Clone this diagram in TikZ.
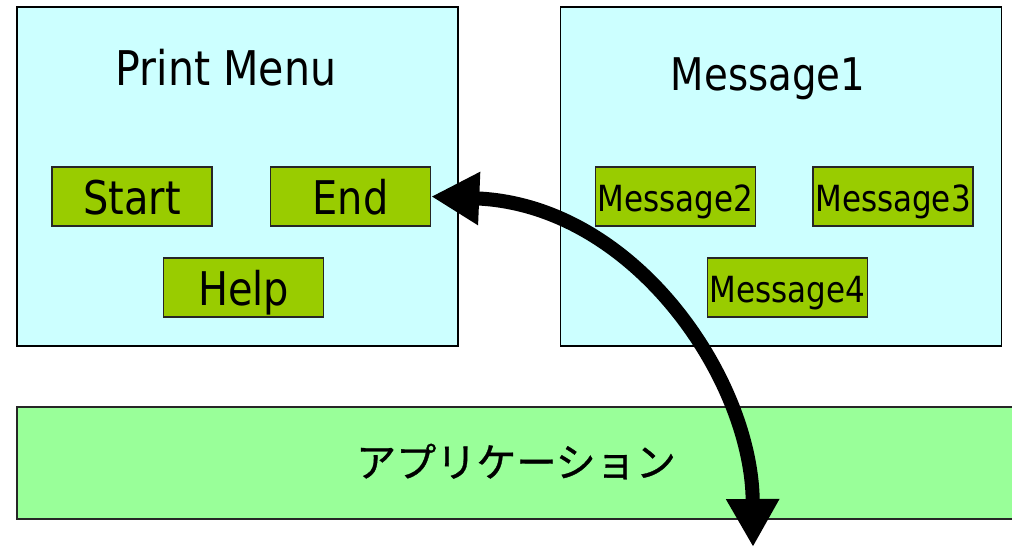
\documentclass[tikz,border=0pt]{standalone}
\usepackage{fontspec}
\setmainfont{DejaVu Sans}[FakeStretch=0.86]
\newfontfamily\jpfont{Noto Sans CJK JP}[FakeBold=0.8]
\usetikzlibrary{arrows.meta}
\definecolor{pmcyan}{HTML}{CCFFFF}
\definecolor{pmbtn}{HTML}{99CC00}
\definecolor{pmapp}{HTML}{99FF99}
\tikzset{
  ppanel/.style={draw=black, line width=1pt, fill=pmcyan, minimum width=11.025cm, minimum height=8.475cm, inner sep=0pt},
  pbtn/.style={draw=black!85, line width=1pt, fill=pmbtn, minimum width=4cm, inner xsep=0pt, inner ysep=0.025cm, text height=1.15cm, text depth=0.275cm, font=\fontsize{33}{36}\selectfont},
  pmsg/.style={pbtn, text height=1.075cm, text depth=0.35cm, font=\fontsize{25.6}{28}\selectfont},
  ptitle/.style={anchor=base, inner sep=0pt},
  papp/.style={draw=black!85, line width=1pt, fill=pmapp, minimum width=24.95cm, minimum height=2.8cm, inner sep=0pt, text height=0.95cm, text depth=0.25cm, font=\jpfont\fontsize{28.5}{32}\selectfont},
  pcall/.style={{Triangle[length=12mm, width=12.5mm]}-{Triangle[length=12mm, width=12.5mm]}, line width=10pt},
}

\begin{document}
\begin{tikzpicture}[x=0.025cm, y=-0.025cm]
    \useasboundingbox (0,0) rectangle (1012,547);
    \clip (0,0) rectangle (1012,547);
    % the two windows
    \node[ppanel] (menu) at (237.5,176.5) {};
    \node[ppanel] (msgs) at (781,176.5) {};
    \node[ptitle, font=\fontsize{34}{38}\selectfont] (menutitle) at (226,85) {Print Menu};
    \node[ptitle, font=\fontsize{32}{36}\selectfont] (msgtitle) at (768,90) {Message1};
    % buttons
    \node[pbtn] (start) at (132,196.5) {Start};
    \node[pbtn] (end) at (350.5,196.5) {End};
    \node[pbtn] (help) at (243.5,287.5) {Help};
    \node[pmsg] (msg2) at (675.5,196.5) {Message2};
    \node[pmsg] (msg3) at (893,196.5) {Message3};
    \node[pmsg] (msg4) at (787.5,287.5) {Message4};
    % application layer
    \node[papp] (app) at (516,463) {アプリケーション};
    \coordinate (appout) at (753,547);
    \draw[pcall] (end.east) .. controls (635,205) and (752,380) .. (appout);
\end{tikzpicture}
\end{document}
